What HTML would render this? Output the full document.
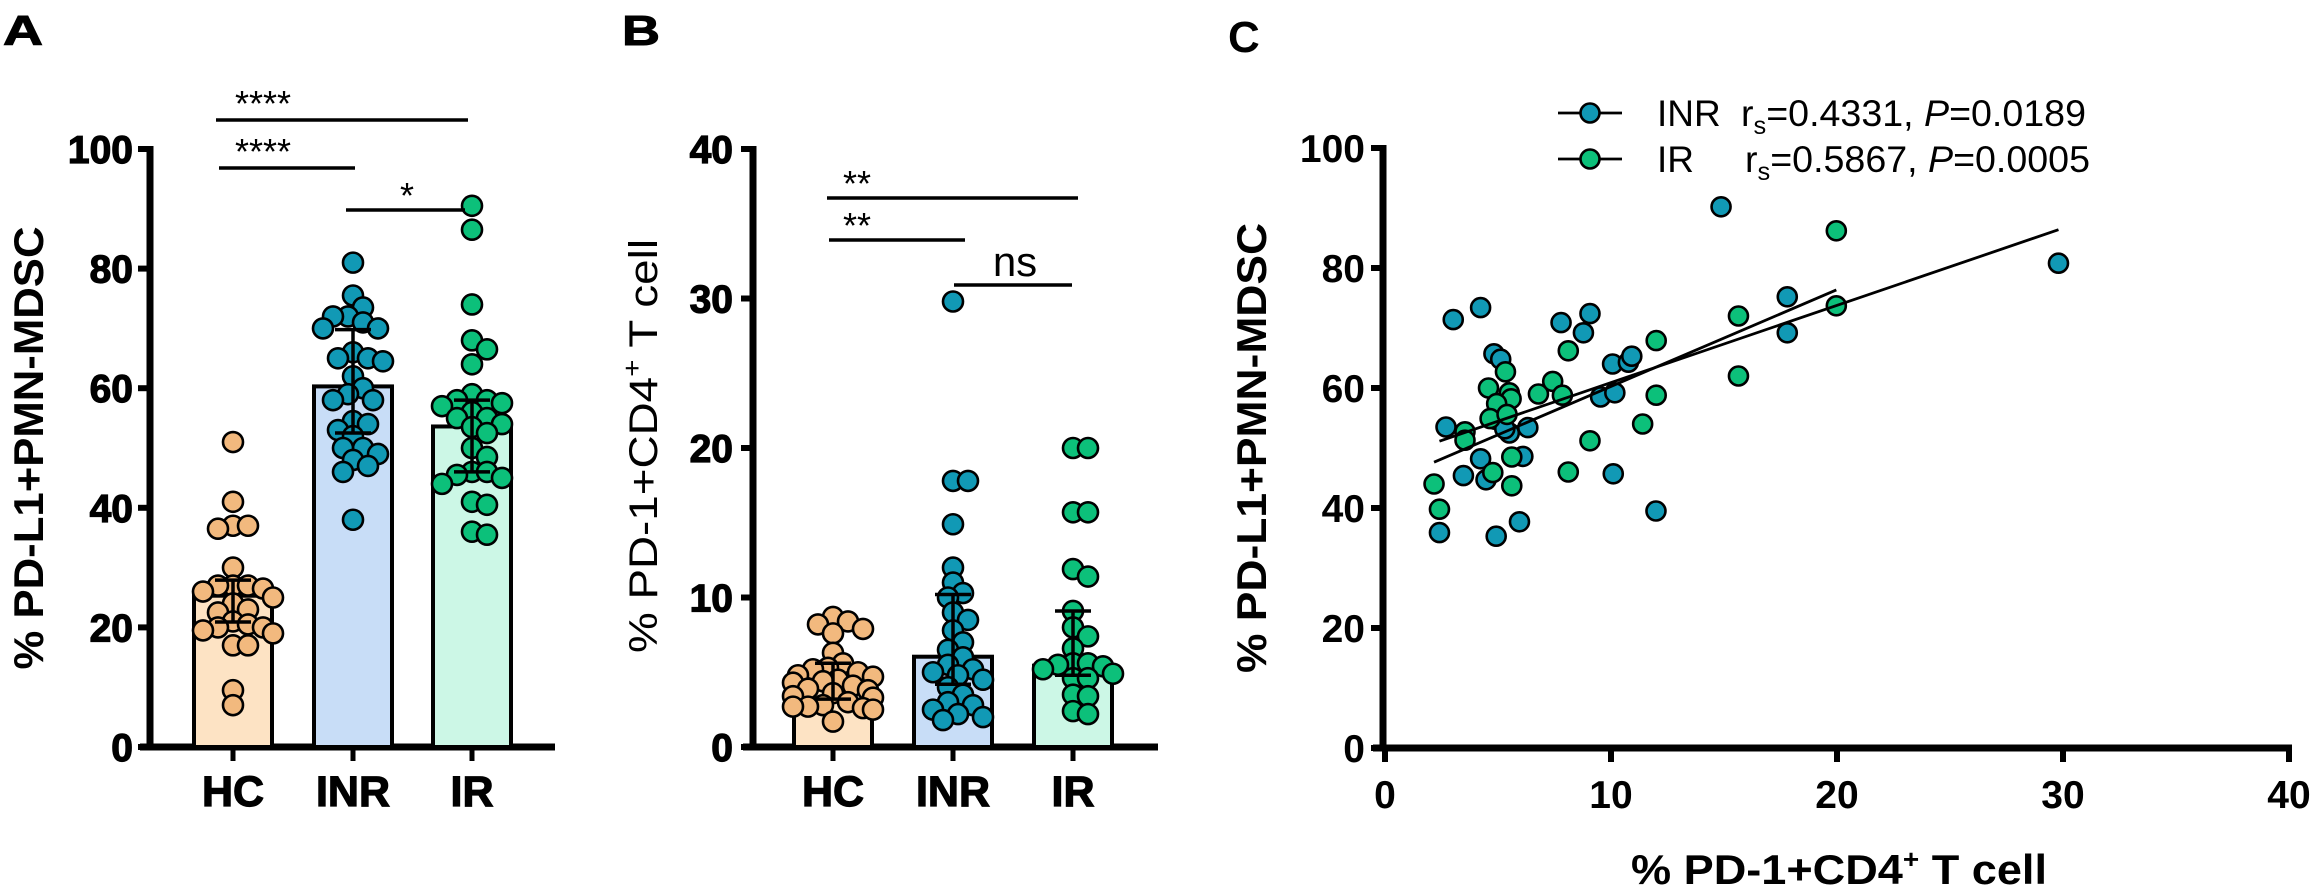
<!DOCTYPE html>
<html><head><meta charset="utf-8"><title>PD-L1 PMN-MDSC figure</title>
<style>
html,body{margin:0;padding:0;background:#fff;}
svg{display:block;font-family:"Liberation Sans",Arial,sans-serif;}
</style></head>
<body>
<svg id="fig" width="2312" height="893" viewBox="0 0 2312 893" xmlns="http://www.w3.org/2000/svg">
  <text x="3" y="45" font-size="42" font-weight="bold" textLength="40" lengthAdjust="spacingAndGlyphs" stroke="#000" stroke-width="1">A</text>
  <text x="622" y="45" font-size="42" font-weight="bold" textLength="38" lengthAdjust="spacingAndGlyphs" stroke="#000" stroke-width="1">B</text>
  <text x="1228" y="52" font-size="44" font-weight="bold">C</text>
  <text transform="translate(43,448) rotate(-90)" text-anchor="middle" font-size="42" font-weight="bold" textLength="443" lengthAdjust="spacingAndGlyphs">% PD-L1+PMN-MDSC</text>
  <text transform="translate(657,446) rotate(-90)" text-anchor="middle" font-size="40" textLength="414" lengthAdjust="spacingAndGlyphs">% PD-1+CD4<tspan dy="-16" font-size="26">+</tspan><tspan dy="16"> T cell</tspan></text>
  <text transform="translate(1266,448) rotate(-90)" text-anchor="middle" font-size="42" font-weight="bold" textLength="450" lengthAdjust="spacingAndGlyphs">% PD-L1+PMN-MDSC</text>
  <text x="1839" y="884" text-anchor="middle" font-size="42" font-weight="bold" textLength="416" lengthAdjust="spacingAndGlyphs">% PD-1+CD4<tspan dy="-16" font-size="26">+</tspan><tspan dy="16"> T cell</tspan></text>
  <g id="gA"></g>
  <g id="gB"></g>
  <g id="gC"></g>
</svg>
<script>
// ---------- Panel A data ----------
const groups = ["HC", "INR", "IR"];
const aTicks = [0, 20, 40, 60, 80, 100];
const aMeans = [25.3, 60.3, 53.6];
const aErrHi = [27.9, 69.8, 58.0];
const aErrLo = [20.9, 52.5, 46.0];
const aHC = [51, 41, 37, 37, 36.5, 30, 27, 27, 27, 26.5, 26, 25, 24, 23, 22.5, 21, 20.5, 20, 20, 19.5, 19, 17, 17, 9.5, 7];
const aINR = [81, 75.5, 73.5, 72, 72, 71, 70, 70, 66, 65, 65, 64.5, 62, 60, 59, 58, 58, 54.5, 54, 53, 52, 50, 50, 49, 48, 47, 46, 38];
const aIR = [90.5, 86.5, 74, 68, 66.5, 64, 59, 58, 58, 57.5, 57, 56, 55, 55, 54, 53.5, 52.5, 50, 48.5, 46, 46, 45.5, 45, 44, 41, 40.5, 36, 35.5];
// ---------- Panel B data ----------
const bTicks = [0, 10, 20, 30, 40];
const bMeans = [4.36, 6.04, 5.44];
const bErrHi = [5.6, 10.2, 9.1];
const bErrLo = [3.2, 4.2, 4.8];
const bHC = [8.7, 8.4, 8.2, 7.9, 7.6, 6.3, 5.6, 5.3, 5.2, 5.0, 4.8, 4.7, 4.5, 4.4, 4.3, 4.1, 3.9, 3.8, 3.6, 3.4, 3.3, 3.0, 2.8, 2.7, 2.7, 2.6, 2.5, 1.7];
const bINR = [29.8, 17.8, 17.8, 14.9, 12.0, 11.0, 10.3, 10.0, 9.0, 8.5, 7.8, 7.0, 6.5, 6.0, 5.5, 5.2, 5.0, 4.8, 4.5, 4.0, 3.5, 3.0, 2.8, 2.5, 2.2, 2.0, 1.8];
const bIR = [20, 20, 15.7, 15.7, 11.9, 11.4, 9.1, 8.0, 7.4, 6.6, 5.6, 5.6, 5.5, 5.4, 5.2, 4.9, 4.6, 4.6, 3.5, 3.4, 2.4, 2.2];
// ---------- Panel C data ----------
const cXTicks = [0, 10, 20, 30, 40];
const cYTicks = [0, 20, 40, 60, 80, 100];
const cINRx = [3.02, 4.23, 4.82, 5.12, 7.79, 8.78, 9.07, 10.07, 10.77, 10.92, 9.54, 10.17, 2.70, 4.87, 5.50, 5.3, 6.32, 6.10, 4.23, 3.47, 4.47, 2.41, 4.92, 5.95, 10.1, 11.99, 14.87, 29.8, 17.8, 17.8];
const cINRy = [71.4, 73.4, 65.7, 64.8, 70.9, 69.2, 72.4, 64.0, 64.3, 65.3, 58.5, 59.2, 53.5, 54.8, 52.5, 53.2, 53.4, 48.6, 48.2, 45.4, 44.7, 35.9, 35.3, 37.7, 45.7, 39.5, 90.2, 80.8, 75.2, 69.2];
const cIRx = [8.11, 12.0, 5.33, 4.58, 5.50, 5.58, 6.79, 7.42, 7.85, 12.0, 4.94, 4.65, 3.54, 3.54, 11.4, 9.07, 5.61, 4.77, 8.11, 5.61, 2.17, 2.41, 5.4, 19.97, 15.64, 19.97, 15.64];
const cIRy = [66.2, 67.9, 62.7, 60.0, 59.2, 58.2, 59.0, 61.1, 58.8, 58.8, 57.4, 54.9, 52.7, 51.3, 54.0, 51.2, 48.5, 45.9, 46.0, 43.7, 44.0, 39.8, 55.6, 86.2, 72.0, 73.7, 62.0];
const fitSlope = [1.287, 1.613];
const fitIntercept = [48.03, 44.13];
const legendLabels = ["INR", "IR"];
const statR = ["0.4331", "0.5867"];
const statP = ["0.0189", "0.0005"];

const NS = "http://www.w3.org/2000/svg";
function mk(parent, tag, attrs) {
  const e = document.createElementNS(NS, tag);
  for (const k in attrs) e.setAttribute(k, attrs[k]);
  parent.appendChild(e);
  return e;
}
const dotCol = ["#F2B97E", "#1199B5", "#0CC07A"];
const barCol = ["#FDE3C4", "#C8DDF7", "#CCF7E6"];

function swarm(vals, yf, r) {
  const placed = [];
  const sorted = vals.map((v, i) => ({v, i})).sort((a, b) => b.v - a.v);
  const out = new Array(vals.length);
  const minD = r * 1.4;
  sorted.forEach(p => {
    const y = yf(p.v);
    let best = 0;
    for (let k = 0; k < 40; k++) {
      const off = (k % 2 ? 1 : -1) * Math.ceil(k / 2) * r * 0.5;
      const ok = placed.every(q => Math.hypot(q.x - off, q.y - y) >= minD);
      if (ok) { best = off; break; }
    }
    best = Math.max(-40, Math.min(40, best));
    placed.push({x: best, y});
    out[p.i] = best;
  });
  return out;
}

function barPanel(g, x0, centers, ymax, ticks, means, hi, lo, pts, labelRight) {
  const y0 = 747, yTop = 149;
  const y = v => y0 - (v / ymax) * (y0 - yTop);
  const ax = mk(g, "line", {x1: x0, y1: y0, x2: x0, y2: yTop - 3, stroke: "#000", "stroke-width": 7});
  
  
  const xa = mk(g, "line", {x1: x0 - 10, y1: y0, x2: x0 + 405, y2: y0, stroke: "#000", "stroke-width": 7});
  
  
  ticks.forEach(t => {
    const tl = mk(g, "line", {x1: x0 - 12, y1: y(t), x2: x0, y2: y(t), stroke: "#000", "stroke-width": 6});
    
    
    const tx = mk(g, "text", {x: labelRight, y: y(t) + 14, "text-anchor": "end", "font-size": 39, "font-weight": "bold", stroke: "#000", "stroke-width": 1.2});
    tx.textContent = t;
    
    
  });
  centers.forEach((cx, i) => {
    const b = mk(g, "rect", {x: cx - 39, y: y(means[i]), width: 78, height: y0 - y(means[i]), fill: barCol[i], stroke: "#000", "stroke-width": 4});
    
    
    const tk = mk(g, "line", {x1: cx, y1: y0, x2: cx, y2: y0 + 14, stroke: "#000", "stroke-width": 5});
    
    
    const lb = mk(g, "text", {x: cx, y: y0 + 59, "text-anchor": "middle", "font-size": 43, "font-weight": "bold", stroke: "#000", "stroke-width": 1.2});
    lb.textContent = groups[i];
    
    
    const offs = swarm(pts[i], y, 10);
    pts[i].forEach((v, j) => {
      const c = mk(g, "circle", {cx: cx + offs[j], cy: y(v), r: 10, fill: dotCol[i], stroke: "#000", "stroke-width": 2.6});
      
      
    });
    const eb = mk(g, "path", {d: `M${cx},${y(hi[i])}V${y(lo[i])}M${cx-18},${y(hi[i])}H${cx+18}M${cx-18},${y(lo[i])}H${cx+18}`, stroke: "#000", "stroke-width": 3.5, fill: "none"});
    
    
  });
}
function bracket(g, x1, x2, yy, label, lx, ly, size, name) {
  const l = mk(g, "line", {x1, y1: yy, x2, y2: yy, stroke: "#000", "stroke-width": 3.5});
  
  
  const t = mk(g, "text", {x: lx, y: ly, "text-anchor": "middle", "font-size": size});
  t.textContent = label;
  
  
}

const gA = document.getElementById("gA");
barPanel(gA, 150, [233, 353, 472], 100, aTicks, aMeans, aErrHi, aErrLo, [aHC, aINR, aIR], 133);
bracket(gA, 216, 468, 120, "****", 263, 116, 36, "bracket-hc-ir");
bracket(gA, 219, 355, 168, "****", 263, 164, 36, "bracket-hc-inr");
bracket(gA, 346, 465, 210, "*", 407, 208, 36, "bracket-inr-ir");

const gB = document.getElementById("gB");
barPanel(gB, 753, [833, 953, 1073], 40, bTicks, bMeans, bErrHi, bErrLo, [bHC, bINR, bIR], 733);
bracket(gB, 827, 1078, 198, "**", 857, 196, 36, "bracket-hc-ir");
bracket(gB, 829, 965, 240, "**", 857, 238, 36, "bracket-hc-inr");
bracket(gB, 954, 1072, 285, "ns", 1015, 276, 42, "bracket-inr-ir");

// ---------- Panel C ----------
const gC = document.getElementById("gC");
const cx0 = 1385, cx1 = 2289, cy0 = 748, cy1 = 148;
const X = v => cx0 + (v / 40) * (cx1 - cx0);
const Y = v => cy0 - (v / 100) * (cy0 - cy1);
let e = mk(gC, "line", {x1: cx0 - 2, y1: cy0, x2: cx0 - 2, y2: cy1 - 3, stroke: "#000", "stroke-width": 7});


e = mk(gC, "line", {x1: cx0 - 12, y1: cy0, x2: cx1 + 3, y2: cy0, stroke: "#000", "stroke-width": 7});


cYTicks.forEach(t => {
  const tl = mk(gC, "line", {x1: cx0 - 14, y1: Y(t), x2: cx0, y2: Y(t), stroke: "#000", "stroke-width": 6});
  
  
  const tx = mk(gC, "text", {x: 1365, y: Y(t) + 14, "text-anchor": "end", "font-size": 39, "font-weight": "bold"});
  tx.textContent = t;
  
  
});
cXTicks.forEach(t => {
  const tl = mk(gC, "line", {x1: X(t), y1: cy0, x2: X(t), y2: cy0 + 14, stroke: "#000", "stroke-width": 6});
  
  
  const tx = mk(gC, "text", {x: X(t), y: 808, "text-anchor": "middle", "font-size": 39, "font-weight": "bold"});
  tx.textContent = t;
  
  
});
const series = [[cINRx, cINRy], [cIRx, cIRy]];
const sCol = [dotCol[1], dotCol[2]];
series.forEach((s, k) => {
  s[0].forEach((xv, j) => {
    const c = mk(gC, "circle", {cx: X(xv), cy: Y(s[1][j]), r: 9.5, fill: sCol[k], stroke: "#000", "stroke-width": 2.6});
    
    
  });
});
series.forEach((s, k) => {
  const xmin = Math.min(...s[0]), xmax = Math.max(...s[0]);
  const f = v => fitSlope[k] * v + fitIntercept[k];
  const l = mk(gC, "line", {x1: X(xmin), y1: Y(f(xmin)), x2: X(xmax), y2: Y(f(xmax)), stroke: "#000", "stroke-width": 2.8});
  
  
});
const legY = [113, 159];
legendLabels.forEach((lab, k) => {
  const ln = mk(gC, "line", {x1: 1558, y1: legY[k], x2: 1622, y2: legY[k], stroke: "#000", "stroke-width": 2.8});
  
  
  const c = mk(gC, "circle", {cx: 1590, cy: legY[k], r: 9.5, fill: sCol[k], stroke: "#000", "stroke-width": 2.6});
  
  
  const t = mk(gC, "text", {x: 1657, y: legY[k] + 13, "font-size": 37});
  t.textContent = lab;
  
  
  const st = mk(gC, "text", {x: 1741 + k * 4, y: legY[k] + 13, "font-size": 37, textLength: 345, lengthAdjust: "spacingAndGlyphs"});
  
  
  st.innerHTML = `r<tspan dy="8" font-size="25">s</tspan><tspan dy="-8">=${statR[k]}, </tspan><tspan font-style="italic">P</tspan>=${statP[k]}`;
});
</script>
</body></html>
